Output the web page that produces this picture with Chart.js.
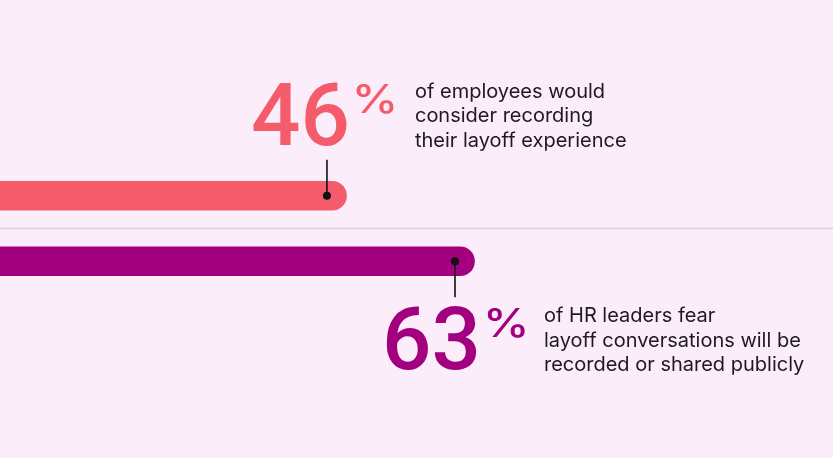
<!DOCTYPE html>
<html>
<head>
<meta charset="utf-8">
<script src="https://cdn.jsdelivr.net/npm/chart.js@4/dist/chart.umd.min.js"></script>
<style>
html,body{margin:0;padding:0;background:#fbedfa;}
#wrap{width:833px;height:458px;position:relative;}
</style>
</head>
<body>
<div id="wrap"><canvas id="c" width="833" height="458"></canvas></div>
<script>
const categories = ["Employees", "HR leaders"];
const values = [46, 63];
const barColors = ["#f45c6c", "#a3007f"];
const bigLabels = ["46", "63"];
const descLines = [
  ["of employees would", "consider recording", "their layoff experience"],
  ["of HR leaders fear", "layoff conversations will be", "recorded or shared publicly"]
];

const annotate = {
  id: 'annotate',
  beforeDatasetsDraw(chart) {
    const ctx = chart.ctx, a = chart.chartArea;
    const yMid = (a.top + a.bottom) / 2;
    ctx.save();
    ctx.strokeStyle = '#e4cde4';
    ctx.lineWidth = 1.5;
    ctx.beginPath();
    ctx.moveTo(0, yMid);
    ctx.lineTo(chart.width, yMid);
    ctx.stroke();
    ctx.restore();
  },
  afterDatasetsDraw(chart) {
    const ctx = chart.ctx;
    const meta = chart.getDatasetMeta(0);
    const xs = chart.scales.x;
    ctx.save();
    meta.data.forEach((bar, i) => {
      const endX = xs.getPixelForValue(values[i]);
      const dx = endX - 19.5;
      const dy = bar.y;
      const up = i === 0;
      const lineEnd = up ? dy - 36 : dy + 36;
      ctx.strokeStyle = '#111';
      ctx.lineWidth = 1.6;
      ctx.beginPath();
      ctx.moveTo(dx, dy);
      ctx.lineTo(dx, lineEnd);
      ctx.stroke();
      ctx.fillStyle = '#111';
      ctx.beginPath();
      ctx.arc(dx, dy, 4, 0, Math.PI * 2);
      ctx.fill();

      // big number
      const numBase = up ? lineEnd - 15 : lineEnd + 72;
      const numLeft = up ? dx - 76 : dx - 73;
      ctx.fillStyle = barColors[i];
      ctx.textBaseline = 'alphabetic';
      ctx.textAlign = 'left';
      ctx.font = '500 87px Roboto';
      ctx.fillText(bigLabels[i], numLeft, numBase);
      const w = ctx.measureText(bigLabels[i]).width;
      ctx.save();
      ctx.translate(numLeft + w + 2, numBase - 32);
      ctx.scale(1.2, 1);
      ctx.font = '500 39px Inter';
      ctx.fillText('%', 0, 0);
      ctx.restore();

      // description
      ctx.fillStyle = '#1f1a1f';
      ctx.font = '400 20px Inter';
      const tx = up ? dx + 88 : dx + 89;
      const ty0 = numBase - 47;
      descLines[i].forEach((ln, k) => ctx.fillText(ln, tx, ty0 + k * 24.5));
    });
    ctx.restore();
  }
};

new Chart(document.getElementById('c'), {
  type: 'bar',
  data: {
    labels: categories,
    datasets: [{
      data: values,
      backgroundColor: barColors,
      barThickness: 29,
      borderRadius: 15,
      borderSkipped: 'start'
    }]
  },
  options: {
    indexAxis: 'y',
    responsive: false,
    animation: false,
    layout: { padding: { top: 163, bottom: 164, left: 0, right: 0 } },
    scales: {
      x: { display: false, min: 0, max: 110.6 },
      y: { display: false }
    },
    plugins: { legend: { display: false }, tooltip: { enabled: false } }
  },
  plugins: [annotate]
});
</script>
</body>
</html>
